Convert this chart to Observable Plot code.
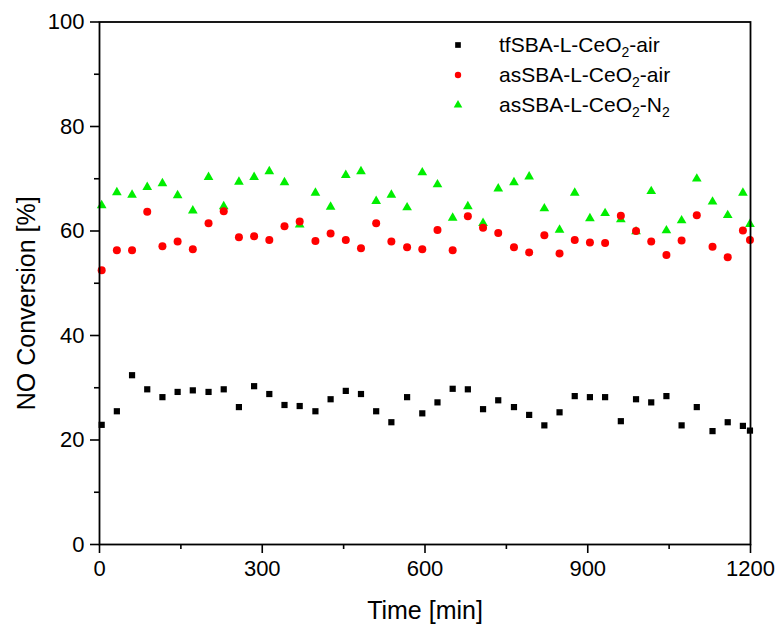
<!DOCTYPE html>
<html>
<head>
<meta charset="utf-8">
<script src="https://cdn.jsdelivr.net/npm/d3@7"></script>
<script src="https://cdn.jsdelivr.net/npm/@observablehq/plot@0.6"></script>
<style>
  html, body { margin: 0; padding: 0; background: #fff; }
  #wrap { position: relative; width: 778px; height: 628px; font-family: "Liberation Sans", Arial, sans-serif; }
  #legend { position: absolute; left: 448px; top: 30px; font-size: 21px; color: #000; }
  #legend .row { display: flex; align-items: center; height: 30px; }
  #legend svg { width: 20px; height: 20px; margin-right: 31px; }
  #legend sub { font-size: 14px; vertical-align: -5px; line-height: 0; }
</style>
</head>
<body>
<div id="wrap"><div id="legend"></div></div>
<script>
// Time (min)
const times = [4, 32, 60, 88, 116, 144, 172, 201, 229, 257, 285, 313, 341, 369, 398, 426, 454, 482, 510, 538, 567, 595, 623, 651, 679, 707, 735, 764, 792, 820, 848, 876, 904, 932, 961, 989, 1017, 1045, 1073, 1101, 1130, 1158, 1186, 1199];

// NO conversion (%) per series
const tfSBA_air = [22.9, 25.5, 32.4, 29.7, 28.2, 29.2, 29.5, 29.2, 29.7, 26.3, 30.3, 28.8, 26.7, 26.5, 25.5, 27.8, 29.4, 28.8, 25.5, 23.4, 28.2, 25.1, 27.2, 29.8, 29.7, 25.9, 27.6, 26.3, 24.8, 22.8, 25.3, 28.4, 28.2, 28.2, 23.6, 27.8, 27.2, 28.4, 22.8, 26.3, 21.7, 23.4, 22.7, 21.8];
const asSBA_air = [52.5, 56.3, 56.3, 63.7, 57.1, 58.0, 56.5, 61.5, 63.8, 58.8, 59.0, 58.3, 60.9, 61.8, 58.1, 59.5, 58.3, 56.7, 61.5, 58.0, 56.9, 56.5, 60.2, 56.3, 62.8, 60.6, 59.6, 56.9, 55.9, 59.2, 55.7, 58.3, 57.8, 57.7, 62.9, 60.0, 58.0, 55.4, 58.2, 63.0, 57.0, 55.0, 60.1, 58.3];
const asSBA_N2 = [64.9, 67.4, 66.9, 68.4, 69.1, 66.8, 63.9, 70.3, 64.7, 69.4, 70.3, 71.4, 69.3, 61.2, 67.3, 64.6, 70.7, 71.4, 65.7, 66.9, 64.5, 71.2, 68.9, 62.5, 64.7, 61.5, 68.1, 69.3, 70.4, 64.3, 60.2, 67.3, 62.4, 63.4, 62.2, 59.9, 67.6, 60.1, 62.0, 70.0, 65.6, 63.0, 67.3, 61.3];

const seriesNames = ["tfSBA-L-CeO2-air", "asSBA-L-CeO2-air", "asSBA-L-CeO2-N2"];
const seriesLabelsHTML = ["tfSBA-L-CeO<sub>2</sub>-air", "asSBA-L-CeO<sub>2</sub>-air", "asSBA-L-CeO<sub>2</sub>-N<sub>2</sub>"];
const seriesColors = ["#000000", "#ff0000", "#00ee00"];
const seriesSymbols = ["square", "circle", "triangle"];
const seriesR = [3.5, 4.0, 3.6];

const xTicks = [0, 300, 600, 900, 1200];
const xMinor = [150, 450, 750, 1050];
const yTicks = [0, 20, 40, 60, 80, 100];
const yMinor = [10, 30, 50, 70, 90];

const seriesValues = [tfSBA_air, asSBA_air, asSBA_N2];
const rows = seriesValues.map((vals, s) => vals.map((v, i) => ({t: times[i], v, s})));

const font = "Liberation Sans, Arial, sans-serif";

const dotMarks = [2, 1, 0].map(s => Plot.dot(rows[s], {
  x: "t", y: "v", symbol: () => seriesSymbols[s], r: seriesR[s],
  fill: seriesColors[s], stroke: "none", clip: false
}));

const chart = Plot.plot({
  width: 778,
  height: 628,
  marginLeft: 99,
  marginRight: 28,
  marginTop: 21.5,
  marginBottom: 84,
  style: {fontFamily: font, fontSize: "22px", color: "#000", background: "#fff", overflow: "visible"},
  x: {domain: [0, 1200]},
  y: {domain: [0, 100]},
  marks: [
    Plot.axisX({ticks: xTicks, tickFormat: d3.format("d"), tickSize: 9, tickPadding: 7, strokeWidth: 1.6, fontSize: 22,
      label: "Time [min]", labelAnchor: "center", labelArrow: "none", labelOffset: 74}),
    Plot.axisX({ticks: xMinor, tickSize: 5, strokeWidth: 1.6, text: null, label: null}),
    Plot.axisY({ticks: yTicks, tickFormat: d3.format("d"), tickSize: 9, tickPadding: 6, strokeWidth: 1.6, fontSize: 22,
      label: "NO Conversion [%]", labelAnchor: "center", labelArrow: "none", labelOffset: 82}),
    Plot.axisY({ticks: yMinor, tickSize: 5, strokeWidth: 1.6, text: null, label: null}),
    ...dotMarks,
    Plot.frame({stroke: "#000", strokeWidth: 1.8})
  ]
});
d3.select(chart).selectAll("[aria-label='x-axis label'] text, [aria-label='y-axis label'] text").attr("font-size", 25);
d3.select(chart).selectAll("[aria-label='y-axis label']").attr("transform", function() {
  return (this.getAttribute("transform") || "") + " translate(0,20)";
});
document.getElementById("wrap").prepend(chart);

// Legend
const legend = d3.select("#legend");
seriesNames.forEach((name, s) => {
  const row = legend.append("div").attr("class", "row");
  const svg = row.append("svg").attr("viewBox", "-10 -10 20 20");
  svg.append("path")
    .attr("d", d3.symbol(s === 0 ? d3.symbolSquare : s === 1 ? d3.symbolCircle : d3.symbolTriangle, Math.PI * 3.2 * 3.2)())
    .attr("fill", seriesColors[s]);
  row.append("span").html(seriesLabelsHTML[s]);
});
</script>
</body>
</html>
